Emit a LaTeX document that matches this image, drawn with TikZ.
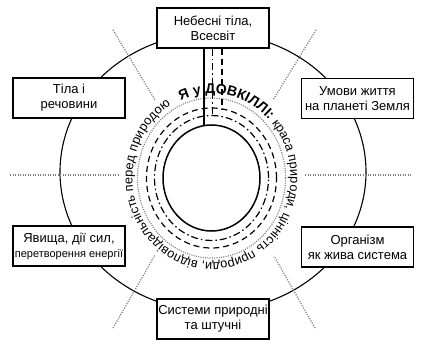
\documentclass[tikz,border=0pt]{standalone}
\usepackage{fontspec}
\setmainfont{Liberation Sans}
\usetikzlibrary{decorations.text}
\begin{document}
\begin{tikzpicture}[x=1pt,y=1pt,
  topic/.style={draw, line width=1.1pt, fill=white, minimum width=112pt,
    minimum height=40pt, align=center, inner sep=1pt,
    font=\fontsize{13}{15}\selectfont},
  sector/.style={draw=gray, line width=1.3pt, dash pattern=on 1.1pt off 1.4pt},
  ring/.style={line width=1.2pt},
  dashdotring/.style={ring, dash pattern=on 7pt off 3pt on 1.5pt off 3pt},
  dashring/.style={ring, dash pattern=on 6pt off 4pt},
  dotring/.style={draw=gray, line width=1.2pt, dash pattern=on 1pt off 1.3pt}
]
\useasboundingbox (0,0) rectangle (421,349);

% outer orbit
\coordinate (o) at (213,177);
\draw[line width=1.1pt] (o) ellipse [x radius=153, y radius=139];

% sector dividers
\draw[sector] (113,319) -- (155,249);
\draw[sector] (316,319) -- (273,249);
\draw[sector] (113,21) -- (155,94);
\draw[sector] (315,21) -- (274,93);
\draw[sector] (10,174) -- (120,174);
\draw[sector] (305,174) -- (412,174);

% central rings
\coordinate (c) at (211.5,171);
\draw[line width=1.5pt] (c) ellipse [x radius=48.5, y radius=53];
\draw[dashdotring] (c) ellipse [x radius=57, y radius=62.5];
\draw[dashring] (c) ellipse [x radius=65, y radius=70];
\draw[dotring] (c) ellipse [x radius=74, y radius=80];

% topics
\node[topic] (sky) at (213,321) {Небесні тіла,\\Всесвіт};
\node[topic] (matter) at (69,251) {Тіла і\\речовини};
\node[topic] (life) at (357.5,250.5) {Умови життя\\на планеті Земля};
\node[topic] (phen) at (69,103) {Явища, дії сил,\\{\fontsize{11}{13}\selectfont перетворення енергії}};
\node[topic] (org) at (357.5,102) {Організм\\як жива система};
\node[topic] (sys) at (213,30) {Системи природні\\та штучні};

% links from the top topic to the rings
\coordinate (s1) at (204,223.4);
\coordinate (s2) at (212.5,233.5);
\coordinate (s3) at (222,240.1);
\draw[line width=1.2pt] (sky.south -| s1) -- (s1);
\draw[dashdotring] (sky.south -| s2) -- (s2);
\draw[dashring] (sky.south -| s3) -- (s3);

% motto around the rings
\path[decorate, decoration={text along path, text align=left,
  text={|\fontsize{14}{14}\selectfont\bfseries|Я у ДОВКІЛЛІ: |\fontsize{12.8}{13}\selectfont\mdseries|краса природи, цінність природи, відповідальність перед природою}}]
  (c) ++(113:79 and 84.5) arc [start angle=113, end angle=-247, x radius=79, y radius=84.5];
\end{tikzpicture}
\end{document}
